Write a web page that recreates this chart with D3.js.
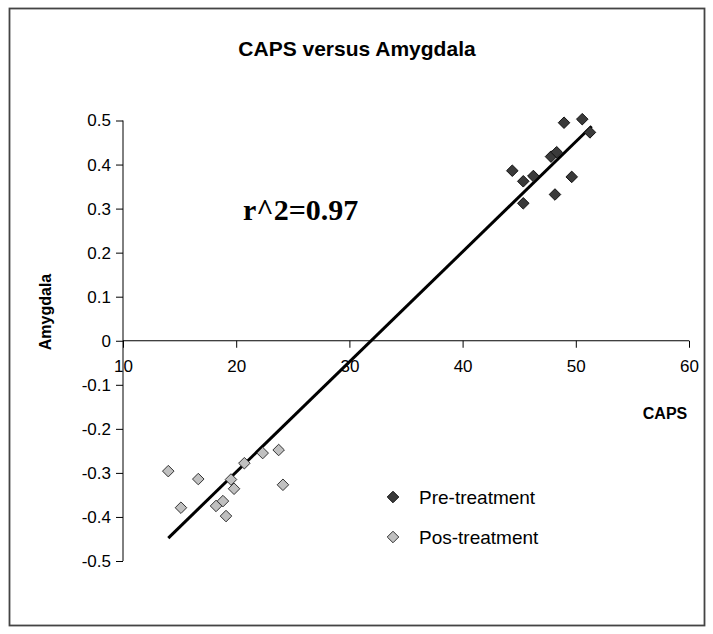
<!DOCTYPE html>
<html>
<head>
<meta charset="utf-8">
<script src="https://cdn.jsdelivr.net/npm/d3@7"></script>
<style>
  body { margin: 0; background: #fff; }
  svg text { font-family: "Liberation Sans", Arial, sans-serif; }
</style>
</head>
<body>
<div id="chart"></div>
<script>
// Data
var preCaps = [48.96, 50.57, 51.25, 47.81, 48.31, 44.39, 45.36, 46.25, 49.64, 48.16, 45.36];
var preAmyg = [0.495, 0.503, 0.473, 0.418, 0.428, 0.386, 0.362, 0.374, 0.372, 0.332, 0.312];
var posCaps = [14.0, 15.12, 16.65, 18.22, 18.83, 19.10, 19.54, 19.81, 20.72, 22.34, 23.75, 24.13];
var posAmyg = [-0.296, -0.379, -0.314, -0.375, -0.364, -0.398, -0.315, -0.336, -0.278, -0.255, -0.248, -0.327];
var trendCaps = [14.0, 51.4];
var trendAmyg = [-0.448, 0.487];
var xTicks = [10, 20, 30, 40, 50, 60];
var yTicks = [-0.5, -0.4, -0.3, -0.2, -0.1, 0, 0.1, 0.2, 0.3, 0.4, 0.5];
var seriesNames = ["Pre-treatment", "Pos-treatment"];

var W = 713, H = 634;
var svg = d3.select("#chart").append("svg")
    .attr("width", W).attr("height", H);

// outer frame
svg.append("rect")
    .attr("x", 9.5).attr("y", 8.5)
    .attr("width", 695).attr("height", 617)
    .attr("fill", "#fff").attr("stroke", "#444").attr("stroke-width", 1.8);

// scales
var x = d3.scaleLinear().domain([10, 60]).range([123, 689]);
var y = d3.scaleLinear().domain([-0.5, 0.5]).range([561, 120.5]);

// title
svg.append("text")
    .attr("x", 357).attr("y", 56)
    .attr("text-anchor", "middle")
    .style("font-weight", "bold").style("font-size", "21px")
    .text("CAPS versus Amygdala");

// y axis (left, at x=10) - plain hyphen for negatives like the original
var yAxis = svg.append("g")
    .attr("transform", "translate(" + x(10) + ",0)")
    .call(d3.axisLeft(y).tickValues(yTicks).tickSize(7).tickPadding(5)
        .tickFormat(function(d) { return String(+d.toFixed(1)); }));
yAxis.select(".domain").attr("stroke", "#000").attr("d", "M0," + y(0.5) + "V" + y(-0.5));
yAxis.selectAll("text").style("font-size", "17px").attr("fill", "#000");

// x axis crossing at y=0
var xAxis = svg.append("g")
    .attr("transform", "translate(0," + y(0) + ")")
    .call(d3.axisBottom(x).tickValues(xTicks).tickSize(7).tickPadding(12));
xAxis.select(".domain").attr("d", "M" + x(10) + ",0H" + x(60)).attr("stroke", "#000");
xAxis.selectAll("text").style("font-size", "17px").attr("fill", "#000");

// axis titles
svg.append("text")
    .attr("x", 665).attr("y", 419)
    .attr("text-anchor", "middle")
    .style("font-weight", "bold").style("font-size", "16px")
    .text("CAPS");
svg.append("text")
    .attr("transform", "translate(51,312) rotate(-90)")
    .attr("text-anchor", "middle")
    .style("font-weight", "bold").style("font-size", "16px")
    .text("Amygdala");

// trend line
var trend = trendCaps.map(function(d, i) { return {x: d, y: trendAmyg[i]}; });
svg.append("path")
    .datum(trend)
    .attr("d", d3.line().x(function(d) { return x(d.x); }).y(function(d) { return y(d.y); }))
    .attr("stroke", "#000").attr("stroke-width", 3).attr("fill", "none");

// points
var diamond = d3.symbol().type(d3.symbolDiamond2).size(85);
var preData = preCaps.map(function(d, i) { return {x: d, y: preAmyg[i]}; });
var posData = posCaps.map(function(d, i) { return {x: d, y: posAmyg[i]}; });

svg.selectAll(".pre")
    .data(preData)
    .enter().append("path")
    .attr("class", "pre")
    .attr("d", diamond)
    .attr("transform", function(d) { return "translate(" + x(d.x) + "," + y(d.y) + ")"; })
    .attr("fill", "#3a3a3a").attr("stroke", "#111").attr("stroke-width", 1);

svg.selectAll(".pos")
    .data(posData)
    .enter().append("path")
    .attr("class", "pos")
    .attr("d", diamond)
    .attr("transform", function(d) { return "translate(" + x(d.x) + "," + y(d.y) + ")"; })
    .attr("fill", "#c0c0c0").attr("stroke", "#333").attr("stroke-width", 1);

// r^2 annotation
svg.append("text")
    .attr("x", 243).attr("y", 220)
    .style("font-family", "'Liberation Serif', 'Times New Roman', serif")
    .style("font-weight", "bold").style("font-size", "30px")
    .text("r^2=0.97");

// legend
var legend = svg.append("g");
var legendFill = ["#3a3a3a", "#c0c0c0"];
var legendStroke = ["#111", "#333"];
seriesNames.forEach(function(name, i) {
    var ly = 497 + i * 40;
    legend.append("path")
        .attr("d", diamond)
        .attr("transform", "translate(393," + ly + ")")
        .attr("fill", legendFill[i]).attr("stroke", legendStroke[i]);
    legend.append("text")
        .attr("x", 419).attr("y", ly + 7)
        .style("font-size", "19px")
        .text(name);
});
</script>
</body>
</html>
